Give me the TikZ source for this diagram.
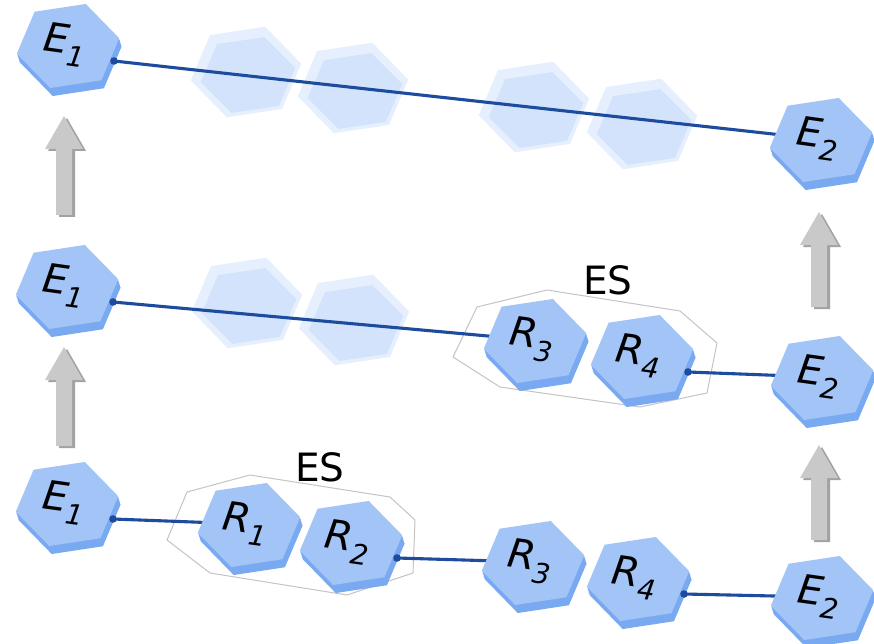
\documentclass[tikz,border=0pt]{standalone}
\usepackage{fontspec}
\setmainfont{DejaVu Sans}
\usetikzlibrary{arrows.meta}

\definecolor{hexface}{HTML}{A2C4F7}
\definecolor{hexside}{HTML}{79A9F0}
\definecolor{ghostface}{HTML}{D3E3FB}
\definecolor{ghosthalo}{HTML}{E6EFFD}
\definecolor{wireblue}{HTML}{1D4C9E}
\definecolor{esline}{HTML}{C4C4C4}
\definecolor{arrface}{HTML}{C9C9C9}
\definecolor{arrside}{HTML}{A2A2A2}

\pgfdeclarelayer{ghosts}
\pgfdeclarelayer{wires}
\pgfsetlayers{ghosts,wires,main}

\tikzset{
  hexshape/.style={insert path={(10:#1) -- (70:#1) -- (130:#1) -- (190:#1) -- (250:#1) -- (310:#1) -- cycle}},
  wire/.style={draw=wireblue, line width=3.1pt},
  wiredot/.style={fill=wireblue},
  hexlabel/.style={inner sep=0pt, font=\fontsize{40}{40}\selectfont\itshape},
  esbox/.style={draw=esline, line width=1pt, line join=round},
  eslabel/.style={inner sep=0pt, font=\fontsize{39}{39}\selectfont},
}

% extruded hexagon cell with a named label node and an outlet point
\newcommand\hexcell[4]{%
  \begin{scope}[shift={(#2,#3)}]
    \foreach \s in {0.25,0.5,0.75,1}{%
      \fill[hexside, shift={(2.5*\s,8*\s)}, yscale=-0.86, hexshape=52];}
    \fill[hexface, yscale=-0.86, hexshape=52];
    \node[hexlabel] (#1) at (-3,-1) {\rotatebox{-8}{#4}};
    \coordinate (#1-out) at (46,15);
  \end{scope}}

% faded placeholder cell
\newcommand\ghostcell[2]{%
  \begin{scope}[shift={(#1,#2)}]
    \fill[ghosthalo, yscale=-0.86, hexshape=56];
    \fill[ghostface, shift={(2,3)}, yscale=-0.84, hexshape=48];
  \end{scope}}

% grey block arrow pointing up: x, tip y, tail y
\newcommand\blockarrow[3]{%
  \begin{scope}[shift={(#1,#2)}]
    \fill[arrside, shift={(3,2)}] (0,0) -- (19,33) -- (8,33) -- (8,{#3-#2}) -- (-8,{#3-#2}) -- (-8,33) -- (-19,33) -- cycle;
    \fill[arrface] (0,0) -- (19,33) -- (8,33) -- (8,{#3-#2}) -- (-8,{#3-#2}) -- (-8,33) -- (-19,33) -- cycle;
  \end{scope}}

\begin{document}
\begin{tikzpicture}[x=1pt,y=-1pt]
\useasboundingbox (0,0) rectangle (874,644);

\begin{pgfonlayer}{ghosts}
  \fill[white] (0,0) rectangle (874,644);
  % top row placeholders
  \ghostcell{246}{72}
  \ghostcell{353}{88}
  \ghostcell{534}{107}
  \ghostcell{642}{124}
  % middle row placeholders
  \ghostcell{247}{303}
  \ghostcell{354}{320}
\end{pgfonlayer}

% top row
\hexcell{t-e1}{68}{46}{E\textsubscript{1}}
\hexcell{t-e2}{821}{140}{E\textsubscript{2}}

% middle row
\hexcell{m-e1}{67}{287}{E\textsubscript{1}}
\hexcell{m-r3}{535}{341}{R\textsubscript{3}}
\hexcell{m-r4}{642}{357}{R\textsubscript{4}}
\hexcell{m-e2}{822}{378}{E\textsubscript{2}}

% bottom row
\hexcell{b-e1}{67}{504}{E\textsubscript{1}}
\hexcell{b-r1}{249}{525}{R\textsubscript{1}}
\hexcell{b-r2}{351}{543}{R\textsubscript{2}}
\hexcell{b-r3}{533}{563}{R\textsubscript{3}}
\hexcell{b-r4}{638}{579}{R\textsubscript{4}}
\hexcell{b-e2}{822}{598}{E\textsubscript{2}}

% enclosing ES outlines and chain links
\begin{pgfonlayer}{wires}
  \draw[esbox] (167,540) -- (187,492) -- (250,475) -- (390,497) -- (415,520) -- (413,573) -- (347,595) -- (210,573) -- cycle;
  \draw[esbox] (453,357) -- (477,307) -- (547,290) -- (680,311) -- (717,343) -- (707,393) -- (640,407) -- (500,387) -- cycle;

  \draw[wire] (t-e1-out) -- (t-e2.center);
  \draw[wire] (m-e1-out) -- (m-r3.center);
  \draw[wire] (m-r4-out) -- (m-e2.center);
  \draw[wire] (b-e1-out) -- (b-r1.center);
  \draw[wire] (b-r2-out) -- (b-r3.center);
  \draw[wire] (b-r4-out) -- (b-e2.center);
\end{pgfonlayer}

\foreach \p in {t-e1,m-e1,m-r4,b-e1,b-r2,b-r4}{\fill[wiredot] (\p-out) circle (3.8);}

\node[eslabel] (es-b) at (320,467) {ES};
\node[eslabel] (es-m) at (608,280) {ES};

% transition arrows between rows
\blockarrow{64}{116}{215}
\blockarrow{64}{347}{446}
\blockarrow{819}{212}{307}
\blockarrow{819}{445}{540}

\end{tikzpicture}
\end{document}
